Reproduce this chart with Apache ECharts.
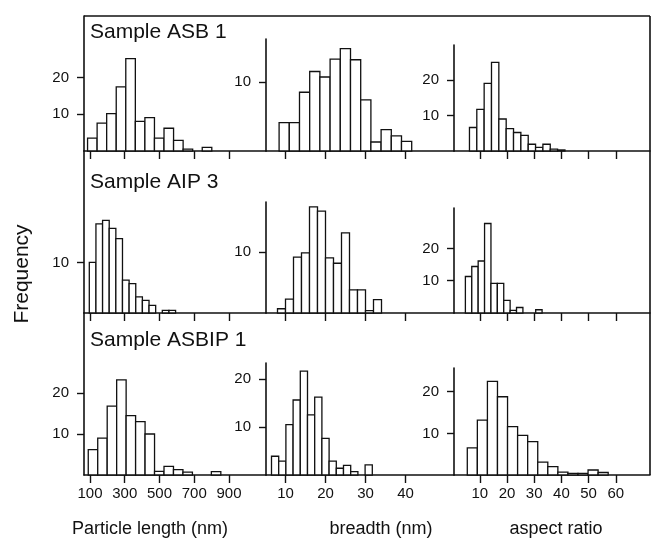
<!DOCTYPE html>
<html>
<head>
<meta charset="utf-8">
<script src="https://cdn.jsdelivr.net/npm/echarts@6.0.0/dist/echarts.min.js"></script>
<style>
  html, body { margin: 0; padding: 0; background: #fff; }
  #chart { width: 653px; height: 545px; }
</style>
</head>
<body>
<div id="chart"></div>
<script>
// axis tick values for each column
const lengthTicks = [100, 300, 500, 700, 900];
const breadthTicks = [10, 20, 30, 40];
const aspectTicks = [10, 20, 30, 40, 50, 60];

const sampleNames = ["Sample ASB 1", "Sample AIP 3", "Sample ASBIP 1"];
const axisTitles = ["Particle length (nm)", "breadth (nm)", "aspect ratio"];

// frequency ticks, row by row (length, breadth, aspect)
const freqTicks = [
  [[10, 20], [10], [10, 20]],
  [[10], [10], [10, 20]],
  [[10, 20], [10, 20], [10, 20]],
];

// histogram bins: [first edge, bin width] + counts
const asbLengthBin = [86, 55];
const asbLength = [3.5, 7.6, 10.2, 17.5, 25.2, 8.1, 9.1, 3.5, 6.2, 2.9, 0.5, 0, 1];
const asbBreadthBin = [8.4, 2.55];
const asbBreadth = [4.1, 4.1, 8.5, 11.5, 10.7, 13.3, 14.8, 13.2, 7.4, 1.3, 3.1, 2.2, 1.4];
const asbAspectBin = [6.2, 2.7];
const asbAspect = [6.6, 11.7, 19, 24.9, 9, 6.3, 5.2, 4.4, 1.9, 1.0, 1.9, 0.5, 0.3];

const aipLengthBin = [96, 38.2];
const aipLength = [10, 17.6, 18.3, 16.7, 14.7, 6.5, 5.8, 3.2, 2.5, 1.5, 0, 0.5, 0.5];
const aipBreadthBin = [8, 2];
const aipBreadth = [0.7, 2.3, 9.2, 9.9, 17.5, 16.8, 9.1, 8.2, 13.2, 3.8, 3.8, 0.4, 2.2];
const aipAspectBin = [4.7, 2.35];
const aipAspect = [11.3, 14.4, 16.1, 27.7, 9.2, 9.2, 3.9, 0.8, 1.7, 0, 0, 1.0];

const asbipLengthBin = [90, 54.5];
const asbipLength = [6.2, 9, 16.8, 23.2, 14.5, 13, 10, 0.9, 2.1, 1.3, 0.7, 0, 0, 0.8];
const asbipBreadthBin = [6.5, 1.8];
const asbipBreadth = [3.9, 2.9, 10.5, 15.6, 21.6, 12.5, 16.2, 7.6, 2.9, 1.4, 2.0, 0.7, 0, 2.1];
const asbipAspectBin = [5.4, 3.7];
const asbipAspect = [6.5, 13.2, 22.5, 18.8, 11.6, 9.5, 8.0, 3.1, 2.0, 0.7, 0.4, 0.4, 1.2, 0.6];

const hists = [
  [asbLengthBin, asbLength], [asbBreadthBin, asbBreadth], [asbAspectBin, asbAspect],
  [aipLengthBin, aipLength], [aipBreadthBin, aipBreadth], [aipAspectBin, aipAspect],
  [asbipLengthBin, asbipLength], [asbipBreadthBin, asbipBreadth], [asbipAspectBin, asbipAspect],
];
const xTicks = [lengthTicks, breadthTicks, aspectTicks];

// layout (px)
const INK = "#111";
const FONT = "'Liberation Sans', Arial, sans-serif";
const COL_X = [84, 266, 454];
const RIGHT = 650;
const FRAME_TOP = 16;
const ROW_BASE = [151, 313, 475];
const X_RANGE = [[65.5, 1113], [5.125, 52.125], [0.515, 72.57]];
// [y-axis height, value at top] for each panel
const Y_LAYOUT = [
  [[135, 36.8], [112, 16.2], [106, 29.8]],
  [[162, 32], [111, 18.3], [105, 32.5]],
  [[162, 39.5], [112, 23.3], [107, 25.7]],
];

const chart = echarts.init(document.getElementById("chart"));

const grid = [], xAxis = [], yAxis = [], series = [];

hists.forEach(([bin, counts], i) => {
  const r = Math.floor(i / 3), c = i % 3;
  const [h, yMax] = Y_LAYOUT[r][c];
  const left = COL_X[c];
  const right = c < 2 ? COL_X[c + 1] : RIGHT;

  grid.push({
    left: left, top: ROW_BASE[r] - h, width: right - left, height: h,
    outerBoundsMode: "none",
  });

  xAxis.push({
    gridIndex: i, type: "value",
    min: X_RANGE[c][0], max: X_RANGE[c][1],
    axisLine: { show: true, onZero: false, lineStyle: { color: INK, width: 1.6 } },
    axisTick: { show: true, length: 8, customValues: xTicks[c], lineStyle: { color: INK, width: 1.4 } },
    axisLabel: {
      show: r === 2, customValues: xTicks[c], margin: 11,
      fontSize: 15, fontFamily: FONT, color: INK,
    },
    splitLine: { show: false },
  });

  yAxis.push({
    gridIndex: i, type: "value", min: 0, max: yMax,
    axisLine: { show: true, lineStyle: { color: INK, width: 1.6 } },
    axisTick: { show: true, length: 7, customValues: freqTicks[r][c], lineStyle: { color: INK, width: 1.4 } },
    axisLabel: {
      customValues: freqTicks[r][c], margin: 15,
      fontSize: 15, fontFamily: FONT, color: INK,
    },
    splitLine: { show: false },
  });

  const bars = [];
  counts.forEach((v, k) => {
    if (v > 0) bars.push([bin[0] + k * bin[1], bin[0] + (k + 1) * bin[1], v]);
  });

  series.push({
    type: "custom",
    xAxisIndex: i, yAxisIndex: i,
    data: bars,
    encode: { x: [0, 1], y: 2 },
    silent: true,
    renderItem: function (params, api) {
      const p0 = api.coord([api.value(0), api.value(2)]);
      const p1 = api.coord([api.value(1), 0]);
      return {
        type: "rect",
        shape: { x: p0[0], y: p0[1], width: p1[0] - p0[0], height: p1[1] - p0[1] },
        style: { fill: "#fff", stroke: INK, lineWidth: 1.3 },
      };
    },
  });
});

const graphic = [
  // outer frame: top and right edges
  { type: "line", shape: { x1: COL_X[0], y1: FRAME_TOP, x2: RIGHT, y2: FRAME_TOP }, style: { stroke: INK, lineWidth: 1.6 } },
  { type: "line", shape: { x1: RIGHT, y1: FRAME_TOP, x2: RIGHT, y2: ROW_BASE[2] }, style: { stroke: INK, lineWidth: 1.6 } },
  {
    type: "text", x: 22, y: 274, rotation: Math.PI / 2,
    style: { text: "Frequency", fontSize: 21, fontFamily: FONT, fill: INK, align: "center", verticalAlign: "middle" },
  },
];
const titleY = [32, 182, 340];
sampleNames.forEach((name, r) => {
  graphic.push({
    type: "text", x: COL_X[0] + 6, y: titleY[r],
    style: { text: name, fontSize: 21, fontFamily: FONT, fill: INK, align: "left", verticalAlign: "middle" },
  });
});
const titleX = [150, 381, 556];
axisTitles.forEach((name, c) => {
  graphic.push({
    type: "text", x: titleX[c], y: 529,
    style: { text: name, fontSize: 18, fontFamily: FONT, fill: INK, align: "center", verticalAlign: "middle" },
  });
});

chart.setOption({
  animation: false,
  backgroundColor: "#fff",
  grid: grid,
  xAxis: xAxis,
  yAxis: yAxis,
  series: series,
  graphic: graphic,
});
</script>
</body>
</html>
